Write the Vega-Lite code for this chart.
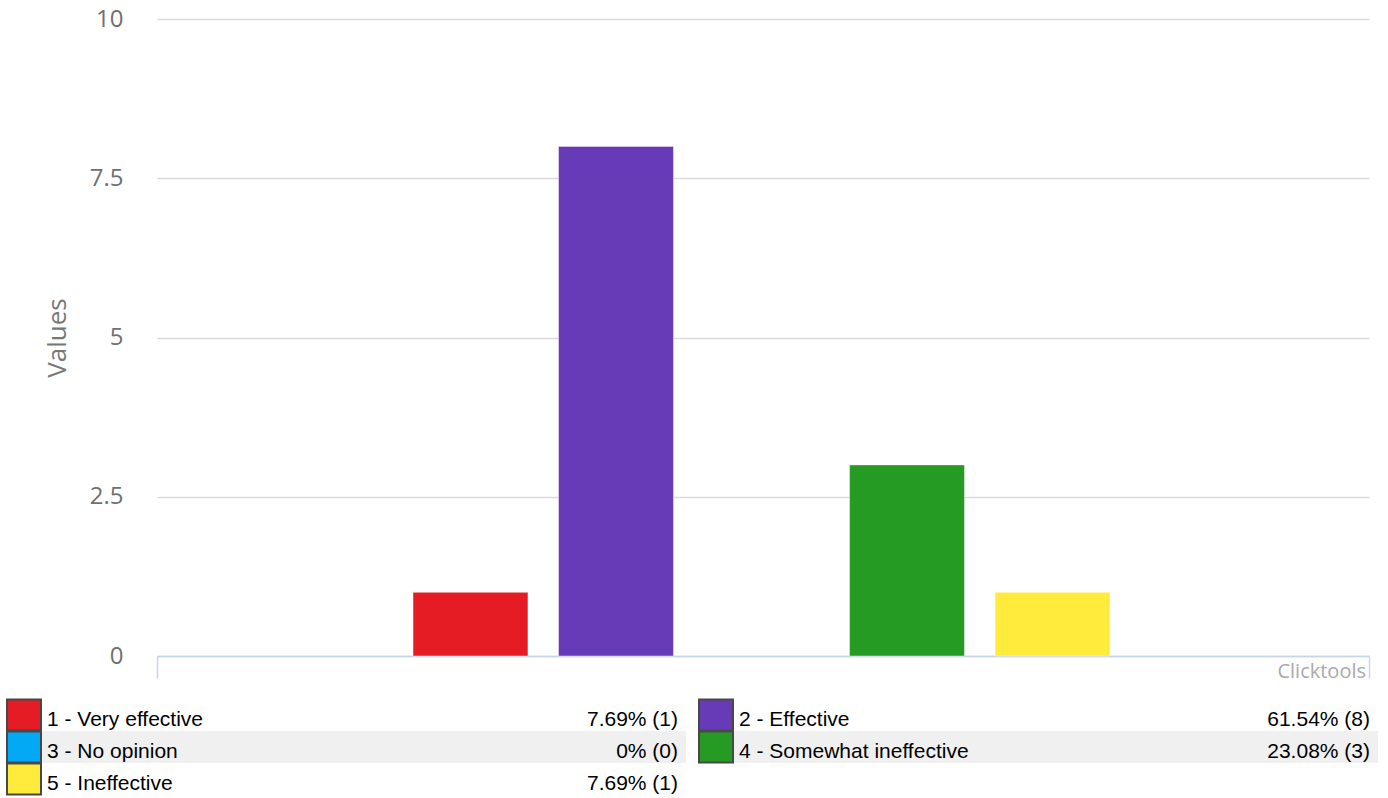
{
  "$schema": "https://vega.github.io/schema/vega-lite/v6.json",
  "width": 1212,
  "height": 637,
  "autosize": {"type": "none"},
  "padding": {"left": 157, "top": 19, "right": 19, "bottom": 142},
  "background": "white",
  "config": {"view": {"stroke": null}},
  "data": {
    "values": [
      {"code": 1, "category": "1 - Very effective", "count": 1, "pct": 7.69},
      {"code": 2, "category": "2 - Effective", "count": 8, "pct": 61.54},
      {"code": 3, "category": "3 - No opinion", "count": 0, "pct": 0},
      {"code": 4, "category": "4 - Somewhat ineffective", "count": 3, "pct": 23.08},
      {"code": 5, "category": "5 - Ineffective", "count": 1, "pct": 7.69}
    ]
  },
  "resolve": {
    "scale": {"x": "independent", "y": "independent"},
    "axis": {"x": "independent", "y": "independent"}
  },
  "layer": [
    {
      "data": {"values": [{}]},
      "mark": {
        "type": "text",
        "text": "Clicktools",
        "font": "Open Sans",
        "fontSize": 20,
        "color": "#aaaaaa",
        "align": "right",
        "baseline": "alphabetic",
        "dx": -3,
        "dy": 22
      },
      "encoding": {
        "x": {
          "datum": 1,
          "type": "quantitative",
          "scale": {"domain": [0, 1], "nice": false},
          "axis": {
            "orient": "bottom",
            "values": [0, 1],
            "domain": true,
            "domainColor": "#c8d5e5",
            "domainWidth": 1.5,
            "ticks": true,
            "tickColor": "#c8d5e5",
            "tickSize": 22,
            "tickWidth": 1.5,
            "labels": false,
            "grid": false,
            "title": null
          }
        },
        "y": {
          "datum": 0,
          "type": "quantitative",
          "scale": {"domain": [0, 10], "nice": false},
          "axis": {
            "values": [0, 2.5, 5, 7.5, 10],
            "format": ".2~f",
            "grid": true,
            "gridColor": "#dadada",
            "gridWidth": 1.5,
            "domain": false,
            "ticks": false,
            "tickSize": 0,
            "labelPadding": 34,
            "labelFont": "Open Sans",
            "labelFontSize": 24,
            "labelColor": "#707070",
            "labelFlush": false,
            "labelOverlap": false,
            "title": "Values",
            "titleFont": "Open Sans",
            "titleFontSize": 26,
            "titleFontWeight": "normal",
            "titleColor": "#777777",
            "titleAngle": 270,
            "titleX": -92,
            "titleY": 318.5,
            "titleAlign": "center",
            "titleBaseline": "alphabetic"
          }
        }
      }
    },
    {
      "transform": [{"filter": "datum.count > 0"}],
      "mark": {"type": "bar", "stroke": "white", "strokeWidth": 1, "strokeOpacity": 0.45},
      "encoding": {
        "x": {
          "field": "category",
          "type": "nominal",
          "sort": null,
          "scale": {
            "domain": ["1 - Very effective", "2 - Effective", "3 - No opinion", "4 - Somewhat ineffective", "5 - Ineffective"],
            "range": [256, 953],
            "paddingInner": 0.21,
            "paddingOuter": 0
          },
          "axis": null
        },
        "y": {
          "field": "count",
          "type": "quantitative",
          "scale": {"domain": [0, 10], "nice": false, "zero": true},
          "axis": null
        },
        "color": {
          "field": "category",
          "type": "nominal",
          "scale": {
            "domain": ["1 - Very effective", "2 - Effective", "3 - No opinion", "4 - Somewhat ineffective", "5 - Ineffective"],
            "range": ["#e51c23", "#673ab7", "#03a9f4", "#259b24", "#ffeb3b"]
          },
          "legend": null
        }
      }
    },
    {
      "transform": [
        {"calculate": "(datum.code - 1) % 2", "as": "col"},
        {"calculate": "floor((datum.code - 1) / 2)", "as": "row"},
        {"calculate": "datum.pct + '% (' + datum.count + ')'", "as": "plabel"}
      ],
      "encoding": {
        "x": {
          "field": "col",
          "type": "ordinal",
          "scale": {"type": "point", "domain": [0, 1], "range": [-133, 559], "padding": 0},
          "axis": null
        },
        "y": {
          "field": "row",
          "type": "ordinal",
          "scale": {"type": "point", "domain": [0, 1, 2], "range": [696, 760], "padding": 0},
          "axis": null
        }
      },
      "layer": [
        {
          "transform": [{"filter": "datum.row == 1"}],
          "mark": {
            "type": "point",
            "shape": "M1.125,-1H41.375V1H1.125Z",
            "size": 1024,
            "filled": true,
            "fill": "#f0f0f0",
            "opacity": 1,
            "strokeWidth": 0
          }
        },
        {
          "mark": {
            "type": "point",
            "shape": "M-1.0625,-0.96875H1.0625V0.96875H-1.0625Z",
            "size": 1024,
            "filled": true,
            "opacity": 1,
            "stroke": "#484848",
            "strokeWidth": 2
          },
          "encoding": {
            "fill": {
              "field": "category",
              "type": "nominal",
              "scale": {
                "domain": ["1 - Very effective", "2 - Effective", "3 - No opinion", "4 - Somewhat ineffective", "5 - Ineffective"],
                "range": ["#e51c23", "#673ab7", "#03a9f4", "#259b24", "#ffeb3b"]
              },
              "legend": null
            }
          }
        },
        {
          "mark": {
            "type": "text",
            "font": "Liberation Sans",
            "fontSize": 21,
            "color": "#000000",
            "align": "left",
            "baseline": "alphabetic",
            "dx": 23,
            "dy": 11
          },
          "encoding": {"text": {"field": "category"}}
        },
        {
          "mark": {
            "type": "text",
            "font": "Liberation Sans",
            "fontSize": 21,
            "color": "#000000",
            "align": "right",
            "baseline": "alphabetic",
            "dx": 654,
            "dy": 11
          },
          "encoding": {"text": {"field": "plabel"}}
        }
      ]
    }
  ]
}
